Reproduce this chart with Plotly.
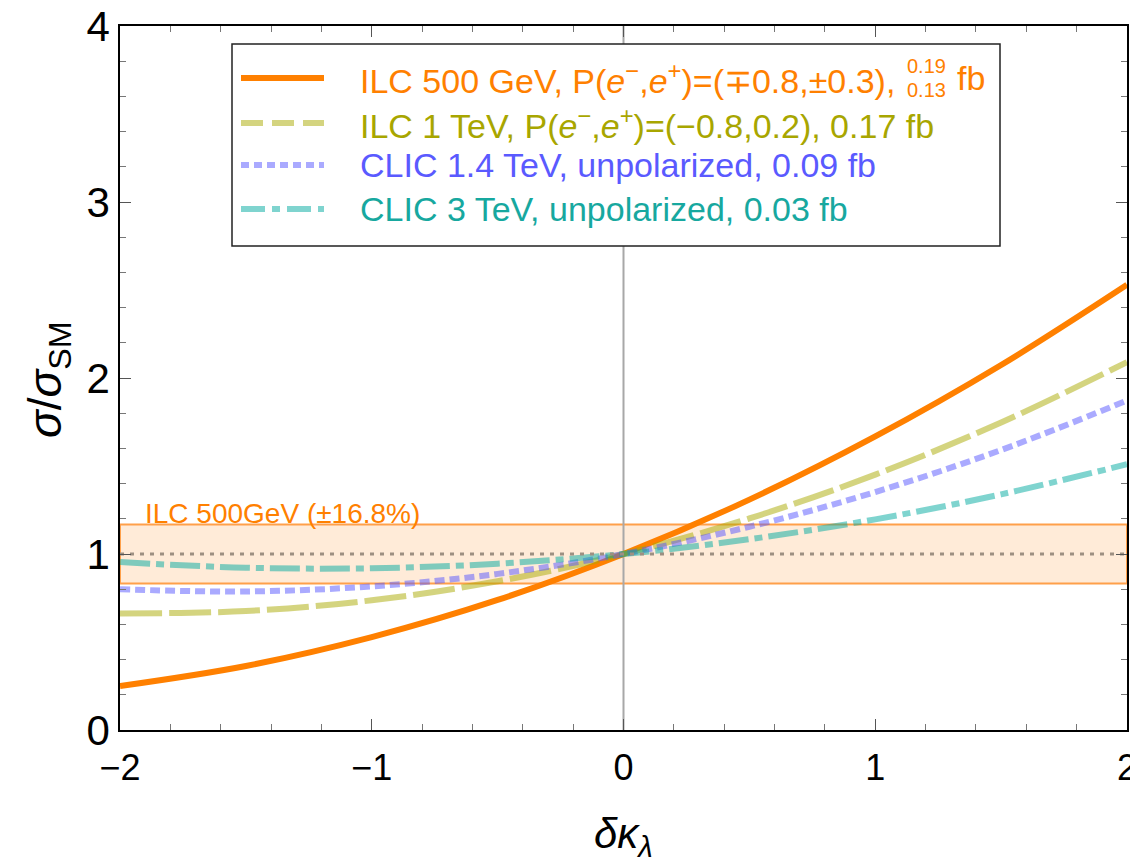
import plotly.graph_objects as go

# ---------------- data ----------------
dk = [-2.0, -1.5, -1.0, -0.5, 0.0, 0.5, 1.0, 1.5, 2.0]
ilc500 = [0.25, 0.364, 0.528, 0.739, 1.0, 1.309, 1.668, 2.074, 2.53]
ilc1000 = [0.662, 0.676, 0.737, 0.845, 1.0, 1.202, 1.451, 1.747, 2.09]
clic1400 = [0.80, 0.787, 0.816, 0.887, 1.0, 1.155, 1.352, 1.591, 1.872]
clic3000 = [0.954, 0.922, 0.919, 0.945, 1.0, 1.084, 1.197, 1.339, 1.51]

sm_ref = 1.0
band_halfwidth = 0.168
x_range = [-2, 2]
y_range = [0, 4]

series_names = [
    "ILC 500 GeV, P(<i>e</i><sup>−</sup>,<i>e</i><sup>+</sup>)=(∓0.8,±0.3),",
    "ILC 1 TeV, P(<i>e</i><sup>−</sup>,<i>e</i><sup>+</sup>)=(−0.8,0.2), 0.17 fb",
    "CLIC 1.4 TeV, unpolarized, 0.09 fb",
    "CLIC 3 TeV, unpolarized, 0.03 fb",
]
frac_top, frac_bot, frac_unit = "0.19", "0.13", "fb"
band_label = "ILC 500GeV (±16.8%)"

# ---------------- styles ----------------
FONT = "Liberation Sans, Arial, sans-serif"
line_cols = ["#FF8000", "rgba(170,170,0,0.5)", "rgba(85,85,255,0.5)", "rgba(0,170,160,0.5)"]
text_cols = ["#FF8000", "#A8A600", "#5A5AFF", "#17A89F"]
dashes = ["solid", "42px,7px", "10px,5px", "30px,6px,8px,6px"]
legend_dashes = ["solid", "22px,9px", "8px,5px", "24px,7px,8px,7px"]

# target screen pixels of the plot area; page body has an 8px margin
OFF = 8
SW, SH = 1138, 865
L, R, T, B = 120, 1127, 26, 730
W, H = SW - OFF, SH - OFF


def px_x(p):
    return (p - L) / (R - L)


def px_y(p):
    return (B - p) / (B - T)


fig = go.Figure()

for ys, c, d in zip([ilc500, ilc1000, clic1400, clic3000], line_cols, dashes):
    fig.add_trace(go.Scatter(x=dk, y=ys, mode="lines",
                             line=dict(color=c, width=6, dash=d, shape="spline"),
                             showlegend=False))

# SM reference dotted line (on top)
fig.add_trace(go.Scatter(x=x_range, y=[sm_ref, sm_ref], mode="lines",
                         line=dict(color="#9E9082", width=3, dash="4px,6px"),
                         hoverinfo="skip", showlegend=False))

shapes = []
# uncertainty band
shapes.append(dict(type="rect", xref="x", yref="y", x0=x_range[0], x1=x_range[1],
                   y0=sm_ref - band_halfwidth, y1=sm_ref + band_halfwidth,
                   fillcolor="#FFEBD8", line=dict(color="#FFA04A", width=2),
                   layer="below"))
# x = 0 line
shapes.append(dict(type="line", xref="x", yref="y", x0=0, x1=0, y0=y_range[0], y1=y_range[1],
                   line=dict(color="#A8A8A8", width=2), layer="below"))

# custom legend box
shapes.append(dict(type="rect", xref="paper", yref="paper",
                   x0=px_x(232), x1=px_x(1000), y0=px_y(246), y1=px_y(44),
                   line=dict(color="#222222", width=1.5), fillcolor="white"))

row_y = [78, 123, 165, 209]
for yy, c, d in zip(row_y, line_cols, legend_dashes):
    shapes.append(dict(type="line", xref="paper", yref="paper",
                       x0=px_x(241), x1=px_x(324), y0=px_y(yy), y1=px_y(yy),
                       line=dict(color=c, width=6, dash=d)))

annotations = []
for yy, name, tc in zip(row_y, series_names, text_cols):
    annotations.append(dict(xref="paper", yref="paper", x=px_x(358), y=px_y(yy),
                            text=name, showarrow=False, xanchor="left", yanchor="middle",
                            font=dict(family=FONT, size=34, color=tc)))
# stacked fraction for ILC 500
annotations.append(dict(xref="paper", yref="paper", x=px_x(905), y=px_y(66), text=frac_top,
                        showarrow=False, xanchor="left", yanchor="middle",
                        font=dict(family=FONT, size=20, color=text_cols[0])))
annotations.append(dict(xref="paper", yref="paper", x=px_x(905), y=px_y(90), text=frac_bot,
                        showarrow=False, xanchor="left", yanchor="middle",
                        font=dict(family=FONT, size=20, color=text_cols[0])))
annotations.append(dict(xref="paper", yref="paper", x=px_x(955), y=px_y(78), text=frac_unit,
                        showarrow=False, xanchor="left", yanchor="middle",
                        font=dict(family=FONT, size=34, color=text_cols[0])))

# band label
annotations.append(dict(xref="paper", yref="paper", x=px_x(143), y=px_y(514), text=band_label,
                        showarrow=False, xanchor="left", yanchor="middle",
                        font=dict(family=FONT, size=28, color="#FF8000")))

# axis titles
annotations.append(dict(xref="paper", yref="paper", x=0.5, y=px_y(836),
                        text="<i>δκ</i><sub><i>λ</i></sub>", showarrow=False,
                        xanchor="center", yanchor="middle",
                        font=dict(family=FONT, size=42, color="black")))
annotations.append(dict(xref="paper", yref="paper", x=px_x(48), y=px_y(380),
                        text="<i>σ</i>/<i>σ</i><sub>SM</sub>", showarrow=False, textangle=-90,
                        xanchor="center", yanchor="middle",
                        font=dict(family=FONT, size=46, color="black")))

axis_common = dict(showgrid=False, zeroline=False, showline=True, linecolor="black",
                   linewidth=1.5, mirror="allticks", ticks="inside", ticklen=11,
                   tickcolor="#555555", tickwidth=1.2, automargin=False,
                   ticklabeloverflow="allow")

fig.update_layout(
    width=W, height=H,
    margin=dict(l=L - OFF, r=SW - R, t=T - OFF, b=SH - B, autoexpand=False),
    paper_bgcolor="white", plot_bgcolor="white",
    shapes=shapes, annotations=annotations,
    showlegend=False,
    xaxis=dict(range=x_range, tickmode="array", tickvals=[-2, -1, 0, 1, 2],
               ticktext=["−2", "−1", "0", "1", "2"],
               tickfont=dict(family=FONT, size=36, color="black"),
               ticklabelstandoff=5,
               minor=dict(dtick=0.2, ticks="inside", ticklen=6, tickcolor="#777777", tickwidth=1),
               **axis_common),
    yaxis=dict(range=y_range, tickmode="array", tickvals=[0, 1, 2, 3, 4],
               tickfont=dict(family=FONT, size=42, color="black"),
               ticklabelstandoff=0,
               minor=dict(dtick=0.2, ticks="inside", ticklen=6, tickcolor="#777777", tickwidth=1),
               **axis_common),
)

fig.write_html("out.html")
